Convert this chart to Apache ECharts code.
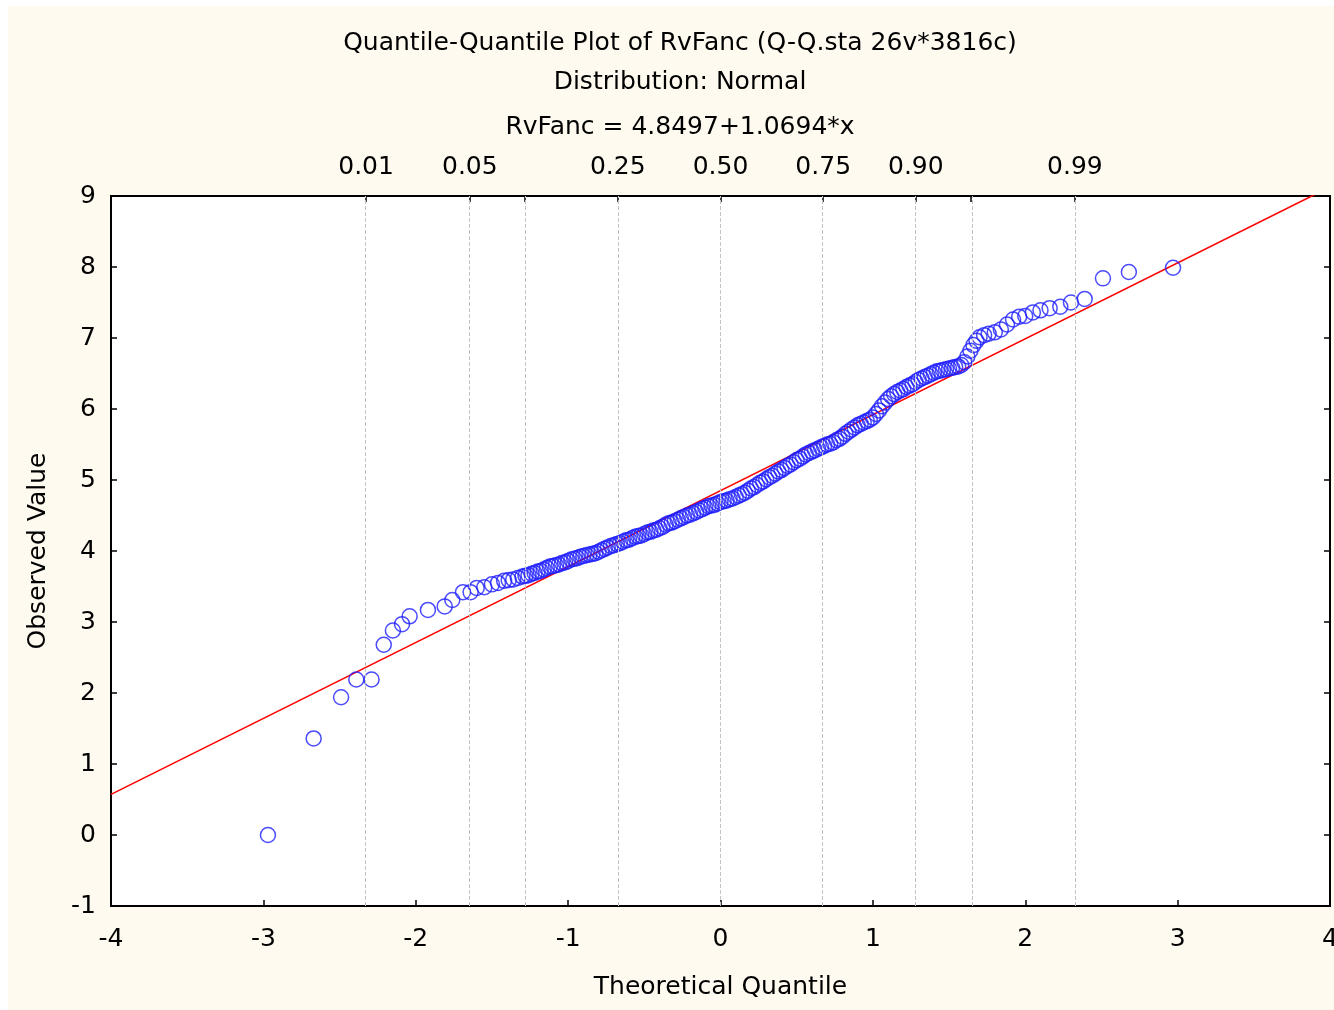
<!DOCTYPE html>
<html>
<head>
<meta charset="utf-8">
<script src="https://cdn.jsdelivr.net/npm/echarts@6/dist/echarts.min.js"></script>
<style>
  html, body { margin: 0; padding: 0; background: #ffffff; }
  #chart { position: absolute; left: 8px; top: 6px; width: 1326px; height: 1004px; background: #fefaef; }
</style>
</head>
<body>
<div id="chart"></div>
<script>
  var theoQ = [
    -2.97, -2.67, -2.49, -2.39, -2.29, -2.21, -2.15, -2.09, -2.04, -1.92,
    -1.81, -1.76, -1.69, -1.64, -1.60, -1.55, -1.50, -1.46, -1.42, -1.39,
    -1.36, -1.33, -1.30, -1.28,
    -1.26, -1.24, -1.22, -1.20, -1.18, -1.16, -1.14, -1.12, -1.10, -1.08,
    -1.06, -1.04, -1.02, -1.00, -0.98, -0.96, -0.94, -0.92, -0.90, -0.88,
    -0.86, -0.84, -0.82, -0.80, -0.78, -0.76, -0.74, -0.72, -0.70, -0.68,
    -0.66, -0.64, -0.62, -0.60, -0.58, -0.56, -0.54, -0.52, -0.50, -0.48,
    -0.46, -0.44, -0.42, -0.40, -0.38, -0.36, -0.34, -0.32, -0.30, -0.28,
    -0.26, -0.24, -0.22, -0.20, -0.18, -0.16, -0.14, -0.12, -0.10, -0.08,
    -0.06, -0.04, -0.02, 0.00, 0.02, 0.04, 0.06, 0.08, 0.10, 0.12,
    0.14, 0.16, 0.18, 0.20, 0.22, 0.24, 0.26, 0.28, 0.30, 0.32,
    0.34, 0.36, 0.38, 0.40, 0.42, 0.44, 0.46, 0.48, 0.50, 0.52,
    0.54, 0.56, 0.58, 0.60, 0.62, 0.64, 0.66, 0.68, 0.70, 0.72,
    0.74, 0.76, 0.78, 0.80, 0.82, 0.84, 0.86, 0.88, 0.90, 0.92,
    0.94, 0.96, 0.98, 1.00, 1.02, 1.04, 1.06, 1.08, 1.10, 1.12,
    1.14, 1.16, 1.18, 1.20, 1.22, 1.24, 1.26, 1.28, 1.30, 1.32,
    1.34, 1.36, 1.38, 1.40, 1.42, 1.44, 1.46, 1.48, 1.50, 1.52,
    1.54, 1.56, 1.58, 1.60,
    1.62, 1.64, 1.66, 1.68, 1.70, 1.73, 1.76, 1.80, 1.84, 1.88,
    1.92, 1.96, 2.00, 2.05, 2.10, 2.16, 2.23, 2.30, 2.39, 2.51,
    2.68, 2.97
  ];
  var observed = [
    0.00, 1.36, 1.94, 2.19, 2.19, 2.68, 2.88, 2.97, 3.08, 3.17,
    3.22, 3.31, 3.42, 3.42, 3.48, 3.49, 3.53, 3.55, 3.58, 3.59,
    3.60, 3.62, 3.64, 3.65,
    3.66, 3.68, 3.69, 3.71, 3.72, 3.74, 3.76, 3.78, 3.79, 3.80,
    3.81, 3.83, 3.84, 3.86, 3.88, 3.89, 3.90, 3.92, 3.93, 3.94,
    3.95, 3.96, 3.97, 3.99, 4.01, 4.03, 4.05, 4.07, 4.08, 4.10,
    4.11, 4.13, 4.15, 4.16, 4.18, 4.20, 4.21, 4.22, 4.24, 4.26,
    4.27, 4.29, 4.30, 4.32, 4.34, 4.37, 4.39, 4.40, 4.42, 4.44,
    4.46, 4.48, 4.50, 4.51, 4.53, 4.55, 4.57, 4.59, 4.61, 4.63,
    4.64, 4.65, 4.67, 4.69, 4.70, 4.71, 4.73, 4.74, 4.76, 4.78,
    4.80, 4.82, 4.85, 4.88, 4.90, 4.93, 4.96, 4.98, 5.01, 5.04,
    5.06, 5.09, 5.12, 5.14, 5.17, 5.20, 5.22, 5.25, 5.28, 5.30,
    5.33, 5.36, 5.38, 5.40, 5.42, 5.44, 5.46, 5.48, 5.50, 5.51,
    5.53, 5.56, 5.58, 5.61, 5.65, 5.68, 5.71, 5.74, 5.77, 5.79,
    5.81, 5.83, 5.85, 5.88, 5.93, 5.98, 6.04, 6.09, 6.14, 6.18,
    6.21, 6.24, 6.26, 6.28, 6.31, 6.33, 6.35, 6.38, 6.41, 6.43,
    6.45, 6.47, 6.49, 6.51, 6.53, 6.54, 6.55, 6.56, 6.57, 6.58,
    6.59, 6.60, 6.62, 6.66,
    6.74, 6.82, 6.90, 6.96, 7.01, 7.04, 7.06, 7.08, 7.12, 7.19,
    7.26, 7.30, 7.31, 7.36, 7.39, 7.42, 7.44, 7.50, 7.55, 7.84,
    7.93, 7.99
  ];

  // fitted line from the title: RvFanc = 4.8497 + 1.0694*x
  var intercept = 4.8497;
  var slope = 1.0694;
  var fitX = [-4, 4];

  // probability scale along the top
  var probLabels = ['0.01', '0.05', '0.10', '0.25', '0.50', '0.75', '0.90', '0.95', '0.99'];
  var probZ = [-2.326, -1.645, -1.282, -0.674, 0, 0.674, 1.282, 1.645, 2.326];
  var shownProbs = ['0.01', '0.05', '0.25', '0.50', '0.75', '0.90', '0.99'];

  var titleLines = [
    'Quantile-Quantile Plot of RvFanc (Q-Q.sta 26v*3816c)',
    'Distribution: Normal',
    'RvFanc = 4.8497+1.0694*x'
  ];

  var font = '"DejaVu Sans", Verdana, sans-serif';
  var points = theoQ.map(function (x, i) { return [x, observed[i]]; });
  var fitData = fitX.map(function (x) { return [x, intercept + slope * x]; });
  var shownZ = probZ.filter(function (z, i) { return shownProbs.indexOf(probLabels[i]) >= 0; });

  var chart = echarts.init(document.getElementById('chart'));
  var option = {
    animation: false,
    textStyle: { fontFamily: font },
    graphic: titleLines.map(function (t, i) {
      return {
        type: 'text',
        x: 672,
        y: [37, 76, 121][i],
        style: {
          text: t,
          font: '25px ' + font,
          fill: '#000',
          textAlign: 'center',
          textVerticalAlign: 'middle'
        }
      };
    }),
    grid: {
      left: 103,
      top: 190,
      right: 4,
      bottom: 104,
      outerBoundsMode: 'none',
      show: true,
      backgroundColor: '#ffffff',
      borderColor: '#000000',
      borderWidth: 2
    },
    xAxis: [{
      type: 'value',
      min: -4,
      max: 4,
      interval: 1,
      position: 'bottom',
      name: 'Theoretical Quantile',
      nameLocation: 'middle',
      nameGap: 69,
      nameTextStyle: { fontSize: 25, color: '#000' },
      axisLine: { show: false, onZero: false },
      axisTick: { inside: true, length: 6, lineStyle: { color: '#000', width: 1.5 } },
      axisLabel: { fontSize: 25, color: '#000', margin: 21 },
      splitLine: { show: false }
    }, {
      type: 'value',
      min: -4,
      max: 4,
      position: 'top',
      axisLine: { show: false, onZero: false },
      axisTick: { inside: true, length: 6, customValues: probZ, lineStyle: { color: '#000', width: 1.5 } },
      axisLabel: {
        fontSize: 25,
        color: '#000',
        margin: 16,
        customValues: shownZ,
        formatter: function (v) {
          var best = 0;
          for (var i = 1; i < probZ.length; i++) {
            if (Math.abs(probZ[i] - v) < Math.abs(probZ[best] - v)) best = i;
          }
          return probLabels[best];
        }
      },
      splitLine: { show: false }
    }],
    yAxis: [{
      type: 'value',
      min: -1,
      max: 9,
      interval: 1,
      position: 'left',
      name: 'Observed Value',
      nameLocation: 'middle',
      nameGap: 60,
      nameTextStyle: { fontSize: 25, color: '#000' },
      axisLine: { show: false, onZero: false },
      axisTick: { inside: true, length: 6, lineStyle: { color: '#000', width: 1.5 } },
      axisLabel: { fontSize: 25, color: '#000', margin: 15 },
      splitLine: { show: false }
    }, {
      type: 'value',
      min: -1,
      max: 9,
      interval: 1,
      position: 'right',
      axisLine: { show: false, onZero: false },
      axisTick: { inside: true, length: 6, lineStyle: { color: '#000', width: 1.5 } },
      axisLabel: { show: false },
      splitLine: { show: false }
    }],
    series: [{
      // dashed guides at the normal quantiles
      type: 'scatter',
      data: [],
      z: 1,
      silent: true,
      markLine: {
        silent: true,
        symbol: ['none', 'none'],
        label: { show: false },
        lineStyle: { type: 'dashed', color: '#c4c4c4', width: 1 },
        data: probZ.map(function (z) { return { xAxis: z }; })
      }
    }, {
      type: 'line',
      data: fitData,
      symbol: 'none',
      z: 2,
      clip: true,
      lineStyle: { color: '#ff0000', width: 1.6 }
    }, {
      type: 'scatter',
      data: points,
      symbol: 'circle',
      symbolSize: 15,
      z: 3,
      itemStyle: { color: 'rgba(0,0,0,0)', borderColor: '#1e1eff', borderWidth: 1.5 }
    }]
  };
  chart.setOption(option);
</script>
</body>
</html>
